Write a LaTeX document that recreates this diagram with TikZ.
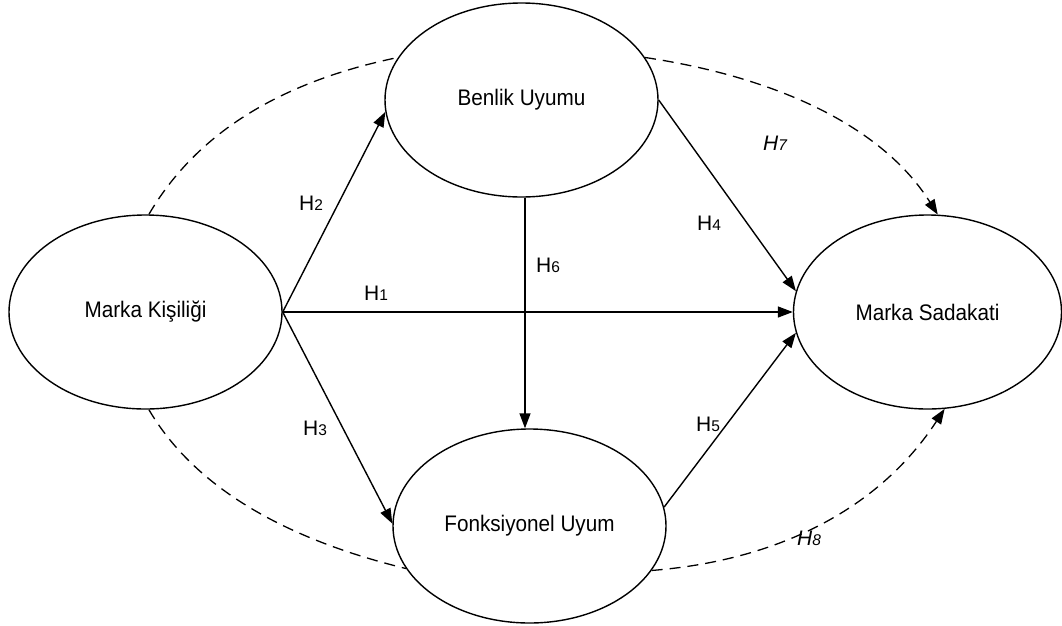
\documentclass[tikz,border=0pt]{standalone}
\usepackage{fontspec}
\setmainfont{Liberation Sans}
\newfontfamily\namefont[FakeStretch=0.92]{Liberation Sans}
\usetikzlibrary{shapes.geometric,arrows.meta}
\newcommand{\hsub}[1]{{\fontsize{15.5}{16}\selectfont #1}}
\begin{document}
\begin{tikzpicture}[x=1pt,y=-1pt,
  latent/.style={ellipse,draw,line width=1.4pt,minimum width=273pt,minimum height=194pt,inner sep=0pt,font=\namefont\fontsize{22.5}{24}\selectfont},
  tip/.style={-{Triangle[length=15pt,width=11pt]}},
  pathline/.style={line width=1.4pt,tip},
  corrline/.style={line width=1.3pt,dash pattern=on 11pt off 7pt},
  hyp/.style={font=\fontsize{21}{22}\selectfont,inner sep=0pt}]
\useasboundingbox (0,0) rectangle (1062,625);

\node[latent] (L) at (145.5,312) {Marka Kişiliği};
\node[latent] (B) at (521.5,100) {Benlik Uyumu};
\node[latent] (F) at (529.5,526) {Fonksiyonel Uyum};
\node[latent,minimum width=268pt] (S) at (927.5,312) {Marka Sadakati};

% direct paths
\draw[pathline] (L.east) -- (S.west);
\draw[pathline] (L.east) -- (B.185);
\draw[pathline] (L.east) -- (F.179);
\draw[pathline] ([xshift=3.5pt]B.south) -- ([xshift=-4.5pt]F.north);
\draw[pathline] (B.east) -- (S.171);
\draw[pathline] (F.8) -- (S.189);

% dashed curves
\draw[corrline] (L.88) .. controls (196,134) and (279,82) .. (B.161);
\draw[corrline] (L.-88) .. controls (192,483) and (277,537) .. (F.199);
\draw[corrline,tip] (B.19) .. controls (788,79) and (886,132) .. (S.84);
\draw[corrline,tip] (F.-20) .. controls (783,560) and (881,506) .. (S.-80);

% labels
\node[hyp] (h1) at (376,293) {H\hsub{1}};
\node[hyp] (h2) at (311,203) {H\hsub{2}};
\node[hyp] (h3) at (315,428) {H\hsub{3}};
\node[hyp] (h4) at (709,223) {H\hsub{4}};
\node[hyp] (h5) at (708,424) {H\hsub{5}};
\node[hyp] (h6) at (548,265) {H\hsub{6}};
\node[hyp] (h7) at (775,143) {\itshape H\hsub{7}};
\node[hyp] (h8) at (809,538) {\itshape H\hsub{8}};
\end{tikzpicture}
\end{document}
